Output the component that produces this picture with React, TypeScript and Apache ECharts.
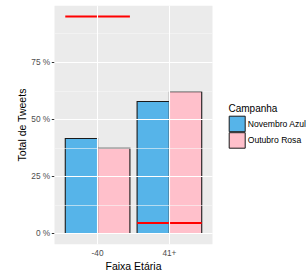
import React, { useEffect, useRef } from "react";
import * as echarts from "echarts";

const categories = ["-40", "41+"];
const novembroAzul = [41.6, 57.8];
const outubroRosa = [37.3, 62.1];
const referencia = [95, 4.6];
const yBreaks = [0, 25, 50, 75];
const yMinor = [12.5, 37.5, 62.5, 87.5];
const xPositions = [1, 2];

const FONT = "'Liberation Sans', Arial, Helvetica, sans-serif";
const BAR_W = 0.45;

function barRenderer(side: number, fill: string) {
  return (params: any, api: any) => {
    const x = api.value(0);
    const y = api.value(1);
    const x0 = side < 0 ? x - BAR_W : x;
    const x1 = side < 0 ? x : x + BAR_W;
    const p0 = api.coord([x0, y]);
    const p1 = api.coord([x1, 0]);
    return {
      type: "rect",
      shape: { x: p0[0], y: p0[1], width: p1[0] - p0[0], height: p1[1] - p0[1] },
      style: { fill, stroke: "#1a1a1a", lineWidth: 1.1 },
    };
  };
}

export default function App() {
  const ref = useRef<HTMLDivElement>(null);
  useEffect(() => {
    if (!ref.current) return;
    const chart = echarts.init(ref.current, undefined, { renderer: "svg" });
    const gridLines: any[] = [
      ...yMinor.map((v) => ({ yAxis: v, lineStyle: { color: "#F7F7F7", width: 0.6, type: "solid" } })),
      ...yBreaks.map((v) => ({ yAxis: v, lineStyle: { color: "#FFFFFF", width: 1.1, type: "solid" } })),
      ...xPositions.map((v) => ({ xAxis: v, lineStyle: { color: "#FFFFFF", width: 1.1, type: "solid" } })),
    ];
    chart.setOption({
      animation: false,
      textStyle: { fontFamily: FONT },
      grid: {
        left: 54.5,
        right: 94.5,
        top: 5.7,
        bottom: 28.7,
        show: true,
        backgroundColor: "#EBEBEB",
        borderWidth: 0,
        containLabel: false,
        outerBoundsMode: "none",
      },
      title: {
        text: "Campanha",
        left: 228.5,
        top: 103,
        padding: 0,
        textStyle: { fontSize: 10, fontWeight: "normal", color: "#000", fontFamily: FONT },
      },
      legend: {
        orient: "vertical",
        left: 228.7,
        top: 115.7,
        padding: 0,
        itemWidth: 16,
        itemHeight: 15.5,
        itemGap: 0,
        icon: "rect",
        selectedMode: false,
        textStyle: { fontSize: 8.6, color: "#000", fontFamily: FONT, padding: [0, 0, 0, -2.5] },
        data: [
          { name: "Novembro Azul", itemStyle: { color: "#56B4E9", borderColor: "#1a1a1a", borderWidth: 1 } },
          { name: "Outubro Rosa", itemStyle: { color: "#FFC0CB", borderColor: "#1a1a1a", borderWidth: 1 } },
        ],
      },
      xAxis: {
        type: "value",
        min: 0.4,
        max: 2.6,
        name: "Faixa Etária",
        nameLocation: "middle",
        nameGap: 16,
        nameMoveOverlap: false,
        nameTextStyle: { fontSize: 10.5, color: "#000", fontFamily: FONT },
        axisLine: { show: false },
        splitLine: { show: false },
        axisTick: { show: true, customValues: xPositions, length: 2.7, lineStyle: { color: "#333333", width: 1 } },
        axisLabel: {
          customValues: xPositions,
          margin: 4.5,
          fontSize: 8.3,
          color: "#4D4D4D",
          formatter: (v: number) => categories[Math.round(v) - 1] ?? "",
        },
      },
      yAxis: {
        type: "value",
        min: -4.75,
        max: 99.75,
        name: "Total de Tweets",
        nameLocation: "middle",
        nameGap: 27,
        nameRotate: 90,
        nameMoveOverlap: false,
        nameTextStyle: { fontSize: 10.5, color: "#000", fontFamily: FONT },
        axisLine: { show: false },
        splitLine: { show: false },
        axisTick: { show: true, customValues: yBreaks, length: 2.7, lineStyle: { color: "#333333", width: 1 } },
        axisLabel: {
          customValues: yBreaks,
          margin: 4.3,
          fontSize: 8.3,
          color: "#4D4D4D",
          formatter: (v: number) => `${v} %`,
        },
      },
      series: [
        {
          type: "line",
          name: "grid",
          data: [],
          silent: true,
          z: 0,
          markLine: {
            silent: true,
            symbol: "none",
            label: { show: false },
            emphasis: { disabled: true },
            data: gridLines,
          },
        },
        {
          type: "custom",
          name: "Novembro Azul",
          z: 2,
          itemStyle: { color: "#56B4E9", borderColor: "#1a1a1a", borderWidth: 1 },
          renderItem: barRenderer(-1, "#56B4E9"),
          data: categories.map((_, i) => [xPositions[i], novembroAzul[i]]),
        },
        {
          type: "custom",
          name: "Outubro Rosa",
          z: 2,
          itemStyle: { color: "#FFC0CB", borderColor: "#1a1a1a", borderWidth: 1 },
          renderItem: barRenderer(1, "#FFC0CB"),
          data: categories.map((_, i) => [xPositions[i], outubroRosa[i]]),
        },
        {
          type: "custom",
          name: "referencia",
          z: 3,
          renderItem: (params: any, api: any) => {
            const x = api.value(0);
            const y = api.value(1);
            const a = api.coord([x - BAR_W, y]);
            const b = api.coord([x + BAR_W, y]);
            return {
              type: "line",
              shape: { x1: a[0], y1: a[1], x2: b[0], y2: b[1] },
              style: { stroke: "#FF0000", lineWidth: 2 },
            };
          },
          data: categories.map((_, i) => [xPositions[i], referencia[i]]),
        },
      ],
    });
    return () => chart.dispose();
  }, []);
  return (
    <div
      ref={ref}
      style={{ position: "absolute", left: 0, top: 0, width: 307, height: 273, background: "#fff" }}
    />
  );
}
